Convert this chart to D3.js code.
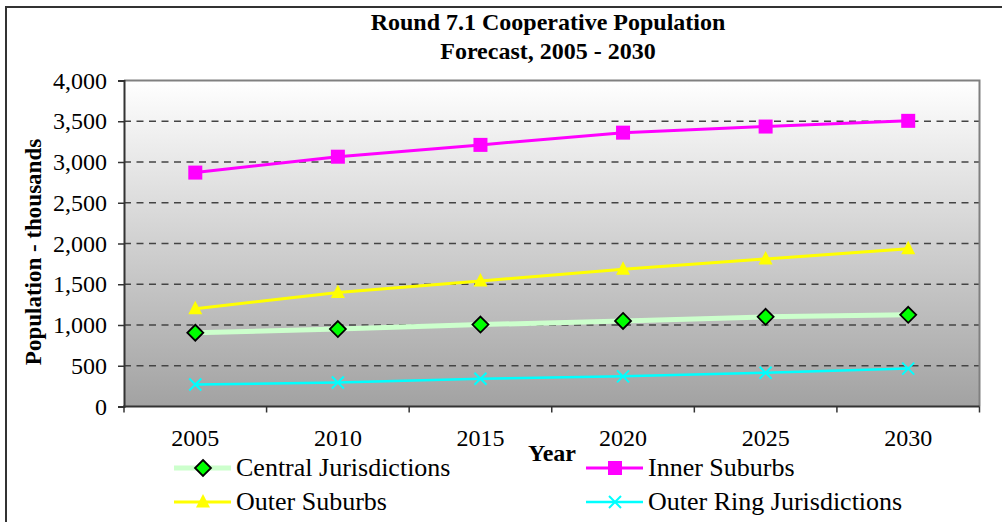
<!doctype html>
<html>
<head>
<meta charset="utf-8">
<style>
	body { margin: 0; background: #fff; }
	text { font-family: "Liberation Serif", "Times New Roman", serif; fill: #000; }
</style>
</head>
<body>
	<div class="figure"></div>

	<script src="https://d3js.org/d3.v7.min.js"></script>
	<script>
		// data (thousands)
		let years = ["2005", "2010", "2015", "2020", "2025", "2030"];
		let central = [905, 950, 1005, 1050, 1100, 1125];
		let inner = [2870, 3065, 3210, 3360, 3435, 3505];
		let outer = [1200, 1400, 1540, 1685, 1810, 1935];
		let outerRing = [270, 295, 340, 370, 415, 465];
		let yTicks = [0, 500, 1000, 1500, 2000, 2500, 3000, 3500, 4000];

		let series = [
			{ name: "Central Jurisdictions", values: central, line: "#ccffcc", width: 5, marker: "diamond", fill: "#00ff00" },
			{ name: "Inner Suburbs", values: inner, line: "#ff00ff", width: 3, marker: "square", fill: "#ff00ff" },
			{ name: "Outer Suburbs", values: outer, line: "#ffff00", width: 3, marker: "triangle", fill: "#ffff00" },
			{ name: "Outer Ring Jurisdictions", values: outerRing, line: "#00ffff", width: 2.5, marker: "cross", fill: "#00ffff" }
		];

		let svg = d3.select(".figure")
			.append("svg")
			.attr("width", 1002)
			.attr("height", 522);

		let plotLeft = 124, plotRight = 979.5, plotTop = 80.5, plotBottom = 406.5;

		let x = d3.scalePoint().domain(years).range([plotLeft, plotRight]).padding(0.5);
		let xBand = d3.scaleBand().domain(years).range([plotLeft, plotRight]);
		let y = d3.scaleLinear().domain([0, 4000]).range([plotBottom, plotTop]);

		// outer chart border (only top and left visible)
		svg.append("rect")
			.attr("x", 6).attr("y", 7)
			.attr("width", 1100).attr("height", 600)
			.attr("fill", "none")
			.attr("stroke", "#333").attr("stroke-width", 2);

		// plot background gradient
		let grad = svg.append("defs").append("linearGradient")
			.attr("id", "bg").attr("x1", 0).attr("y1", 0).attr("x2", 0).attr("y2", 1);
		grad.append("stop").attr("offset", "0%").attr("stop-color", "#ffffff");
		grad.append("stop").attr("offset", "100%").attr("stop-color", "#a2a2a2");

		svg.append("rect")
			.attr("x", plotLeft).attr("y", plotTop)
			.attr("width", plotRight - plotLeft).attr("height", plotBottom - plotTop)
			.attr("fill", "url(#bg)");

		// dashed gridlines
		svg.append("g")
			.selectAll("line")
			.data(yTicks.filter(d => d > 0 && d < 4000))
			.join("line")
			.attr("x1", plotLeft).attr("x2", plotRight)
			.attr("y1", d => y(d)).attr("y2", d => y(d))
			.attr("stroke", "#444")
			.attr("stroke-width", 1.3)
			.attr("stroke-dasharray", "7,5.5");

		// top and right border of plot
		svg.append("path")
			.attr("d", `M${plotLeft},${plotTop}H${plotRight}V${plotBottom}`)
			.attr("fill", "none")
			.attr("stroke", "#808080").attr("stroke-width", 2);

		// y axis
		let yAxis = svg.append("g")
			.attr("transform", `translate(${plotLeft},0)`)
			.call(d3.axisLeft(y).tickValues(yTicks).tickSize(6).tickPadding(11).tickFormat(d3.format(",")));
		yAxis.select(".domain").attr("stroke", "#333").attr("stroke-width", 2);
		yAxis.selectAll(".tick line").attr("stroke", "#333").attr("stroke-width", 1.5);
		yAxis.selectAll("text").style("font-size", "24px").style("font-family", "Liberation Serif");

		// x axis, ticks at category boundaries
		svg.append("line")
			.attr("x1", plotLeft - 1).attr("x2", plotRight)
			.attr("y1", plotBottom).attr("y2", plotBottom)
			.attr("stroke", "#333").attr("stroke-width", 2);
		svg.append("g")
			.selectAll("line")
			.data(years.map(d => xBand(d)).concat([plotRight]))
			.join("line")
			.attr("x1", d => d).attr("x2", d => d)
			.attr("y1", plotBottom).attr("y2", plotBottom + 6)
			.attr("stroke", "#333").attr("stroke-width", 1.5);
		svg.append("g")
			.selectAll("text")
			.data(years)
			.join("text")
			.attr("x", d => x(d))
			.attr("y", 446)
			.attr("text-anchor", "middle")
			.style("font-size", "24px")
			.text(d => d);

		// titles
		svg.append("text").attr("x", 548).attr("y", 30).attr("text-anchor", "middle")
			.style("font-size", "24px").style("font-weight", "bold")
			.text("Round 7.1 Cooperative Population");
		svg.append("text").attr("x", 548).attr("y", 59).attr("text-anchor", "middle")
			.style("font-size", "24px").style("font-weight", "bold")
			.text("Forecast, 2005 - 2030");
		svg.append("text").attr("x", 552).attr("y", 461).attr("text-anchor", "middle")
			.style("font-size", "24px").style("font-weight", "bold")
			.text("Year");
		svg.append("text")
			.attr("transform", "translate(41,252) rotate(-90)")
			.attr("text-anchor", "middle")
			.style("font-size", "23px").style("font-weight", "bold")
			.text("Population - thousands");

		function drawMarker(g, type, fill) {
			if (type === "diamond") {
				g.append("path").attr("d", "M0,-8L8,0L0,8L-8,0Z")
					.attr("fill", fill).attr("stroke", "#000").attr("stroke-width", 1.8);
			} else if (type === "square") {
				g.append("rect").attr("x", -7).attr("y", -7).attr("width", 14).attr("height", 14)
					.attr("fill", fill);
			} else if (type === "triangle") {
				g.append("path").attr("d", "M0,-8L7,5.5L-7,5.5Z").attr("fill", fill);
			} else {
				g.append("path").attr("d", "M-6,-6L6,6M-6,6L6,-6")
					.attr("stroke", fill).attr("stroke-width", 2);
			}
		}

		let line = d3.line().x((d, i) => x(years[i])).y(d => y(d));

		series.forEach(s => {
			svg.append("path")
				.attr("d", line(s.values))
				.attr("fill", "none")
				.attr("stroke", s.line)
				.attr("stroke-width", s.width);
			s.values.forEach((v, i) => {
				let g = svg.append("g").attr("transform", `translate(${x(years[i])},${y(v)})`);
				drawMarker(g, s.marker, s.fill);
			});
		});

		// legend, two columns
		let legendPos = [
			{ lx: 174, ty: 468 }, { lx: 586, ty: 468 },
			{ lx: 174, ty: 502 }, { lx: 586, ty: 502 }
		];
		series.forEach((s, i) => {
			let p = legendPos[i];
			let g = svg.append("g").attr("transform", `translate(${p.lx},${p.ty})`);
			g.append("line").attr("x1", 0).attr("x2", 57).attr("y1", 0).attr("y2", 0)
				.attr("stroke", s.line).attr("stroke-width", s.width);
			let m = g.append("g").attr("transform", "translate(29,0)");
			drawMarker(m, s.marker, s.fill);
			g.append("text").attr("x", 62).attr("y", 8)
				.style("font-size", "26px")
				.text(s.name);
		});
	</script>
</body>
</html>
